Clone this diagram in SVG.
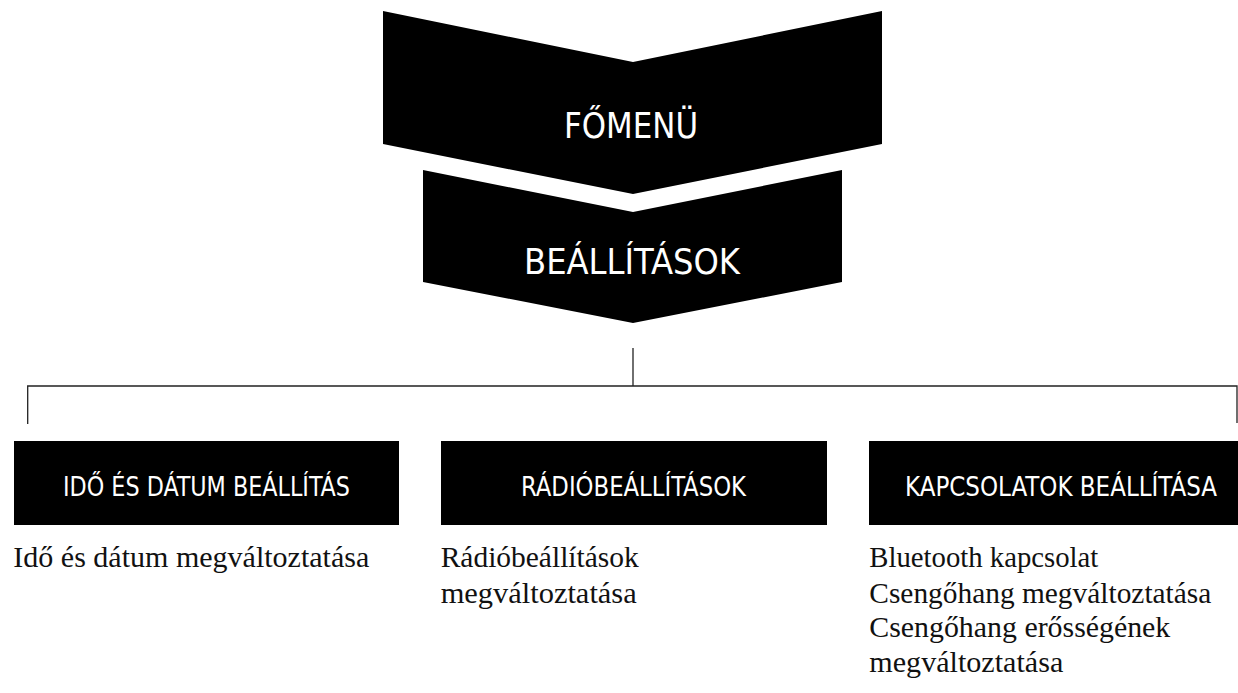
<svg xmlns="http://www.w3.org/2000/svg" width="1238" height="693" viewBox="0 0 1238 693">
  <style>
    .shape { fill: #000000; }
    .head { fill: #ffffff; font-family: "Liberation Sans Narrow", "DejaVu Sans Condensed", "Liberation Sans", sans-serif; font-stretch: condensed; text-anchor: middle; }
    .big { font-size: 36px; }
    .lbl { font-size: 26px; }
    .body { fill: #111111; font-family: "Liberation Serif", "DejaVu Serif", serif; font-size: 30px; }
    .conn { fill: none; stroke: #222222; stroke-width: 1.3; }
  </style>
  <rect width="1238" height="693" fill="#ffffff"/>

  <g id="connectors">
    <path class="conn" d="M633,348 V386"/>
    <path class="conn" d="M27.7,424 V386 H1237 V423"/>
  </g>

  <g id="node-fomenu">
    <polygon class="shape" points="383,11 633,62 882,11 882,144 633,194 383,144"/>
    <text class="head big" x="631" y="138" textLength="134" lengthAdjust="spacingAndGlyphs">FŐMENÜ</text>
  </g>

  <g id="node-beallitasok">
    <polygon class="shape" points="423,170 633,212 842,170 842,282 633,323 423,282"/>
    <text class="head big" x="632" y="274" textLength="216" lengthAdjust="spacingAndGlyphs">BEÁLLÍTÁSOK</text>
  </g>

  <g id="node-ido">
    <rect class="shape" x="14" y="441" width="385" height="84"/>
    <text class="head lbl" x="206.5" y="496" textLength="287" lengthAdjust="spacingAndGlyphs">IDŐ ÉS DÁTUM BEÁLLÍTÁS</text>
    <text class="body" x="13.3" y="567.3" textLength="356" lengthAdjust="spacingAndGlyphs">Idő és dátum megváltoztatása</text>
  </g>

  <g id="node-radio">
    <rect class="shape" x="441" y="441" width="386" height="84"/>
    <text class="head lbl" x="633.5" y="496" textLength="225" lengthAdjust="spacingAndGlyphs">RÁDIÓBEÁLLÍTÁSOK</text>
    <text class="body" x="440.7" y="567.3" textLength="198" lengthAdjust="spacingAndGlyphs">Rádióbeállítások</text>
    <text class="body" x="440.7" y="602.7" textLength="196" lengthAdjust="spacingAndGlyphs">megváltoztatása</text>
  </g>

  <g id="node-kapcsolatok">
    <rect class="shape" x="869" y="441" width="369" height="84"/>
    <text class="head lbl" x="1061" y="496" textLength="312" lengthAdjust="spacingAndGlyphs">KAPCSOLATOK BEÁLLÍTÁSA</text>
    <text class="body" x="869.3" y="567.3" textLength="229" lengthAdjust="spacingAndGlyphs">Bluetooth kapcsolat</text>
    <text class="body" x="869.3" y="603.3" textLength="342" lengthAdjust="spacingAndGlyphs">Csengőhang megváltoztatása</text>
    <text class="body" x="869.3" y="636.5" textLength="301" lengthAdjust="spacingAndGlyphs">Csengőhang erősségének</text>
    <text class="body" x="869.3" y="671.7" textLength="194" lengthAdjust="spacingAndGlyphs">megváltoztatása</text>
  </g>
</svg>
